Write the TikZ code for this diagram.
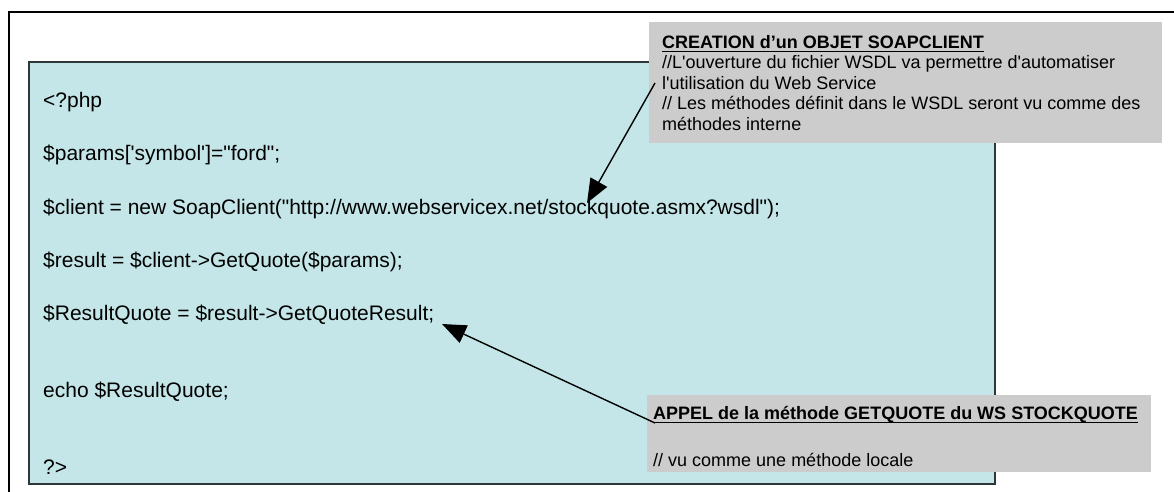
\documentclass[tikz,border=0pt]{standalone}
\usepackage{fontspec}
\setmainfont{Liberation Sans}[Ligatures=TeXOff]
\usetikzlibrary{arrows.meta,calc}
\definecolor{cyanfill}{RGB}{196,230,232}
\definecolor{grayfill}{RGB}{204,204,204}
\definecolor{boxline}{RGB}{45,55,55}
\begin{document}
\begin{tikzpicture}[x=1pt,y=-1pt,
  codeline/.style={anchor=base west,inner sep=0pt,font=\fontsize{21}{25}\selectfont},
  notetext/.style={anchor=base west,inner sep=0pt,font=\fontsize{18}{21}\selectfont},
  notetitle/.style={anchor=base west,inner sep=0pt,font=\fontsize{18}{21}\selectfont\bfseries},
  codebox/.style={draw=boxline,fill=cyanfill,line width=1.2pt,anchor=north west,inner sep=0pt,outer sep=0pt},
  notebox/.style={fill=grayfill,anchor=north west,inner sep=0pt,outer sep=0pt},
  pointer/.style={line width=1.4pt,-{Triangle[length=24pt,width=19pt]}},
  uline/.style={line width=1.6pt}]
\useasboundingbox (0,0) rectangle (1174,492);
\fill[white] (0,0) rectangle (1174,492);
\draw[line width=2pt] (9,494) -- (9,12) -- (1176,12);
\node[codebox,minimum width=966pt,minimum height=422pt] (code) at (29,62) {};
\node[notebox,minimum width=513pt,minimum height=121pt] (note1) at (649,22) {};
\node[notebox,minimum width=504pt,minimum height=77pt] (note2) at (647,395) {};
% code lines
\node[codeline] (c1) at (43,107.5) {<?php};
\node[codeline] (c2) at (43,160.5) {\$params['symbol']="ford";};
\node[codeline] (c3) at (43,214) {\$client = new SoapClient("http://www.webservicex.net/stockquote.asmx?wsdl");};
\node[codeline] (c4) at (43,267.5) {\$result = \$client->GetQuote(\$params);};
\node[codeline] (c5) at (43,320.5) {\$ResultQuote = \$result->GetQuoteResult;};
\node[codeline] (c6) at (43,397.5) {echo \$ResultQuote;};
\node[codeline] (c7) at (43,474.5) {?>};
% note 1
\node[notetitle] (n1t) at (662,48.5) {CREATION d’un OBJET SOAPCLIENT};
\draw[uline] ($(n1t.base west)+(0,3)$) -- ($(n1t.base east)+(0,3)$);
\node[notetext] (n1a) at (662,69) {//L'ouverture du fichier WSDL va permettre d'automatiser};
\node[notetext] (n1b) at (662,89.5) {l'utilisation du Web Service};
\node[notetext] (n1c) at (662,110) {// Les méthodes définit dans le WSDL seront vu comme des};
\node[notetext] (n1d) at (662,130.5) {méthodes interne};
% note 2
\node[notetitle] (n2t) at (653,419.5) {APPEL de la méthode GETQUOTE du WS STOCKQUOTE};
\draw[uline] ($(n2t.base west)+(0,3)$) -- ($(n2t.base east)+(0,3)$);
\node[notetext] (n2a) at (653,466.5) {// vu comme une méthode locale};
% pointers
\coordinate (p1) at (655,83);
\coordinate (q1) at (587,203);
\coordinate (p2) at (655,423);
\coordinate (q2) at (442,324);
\draw[pointer] (p1) -- (q1);
\draw[pointer] (p2) -- (q2);
\end{tikzpicture}
\end{document}
